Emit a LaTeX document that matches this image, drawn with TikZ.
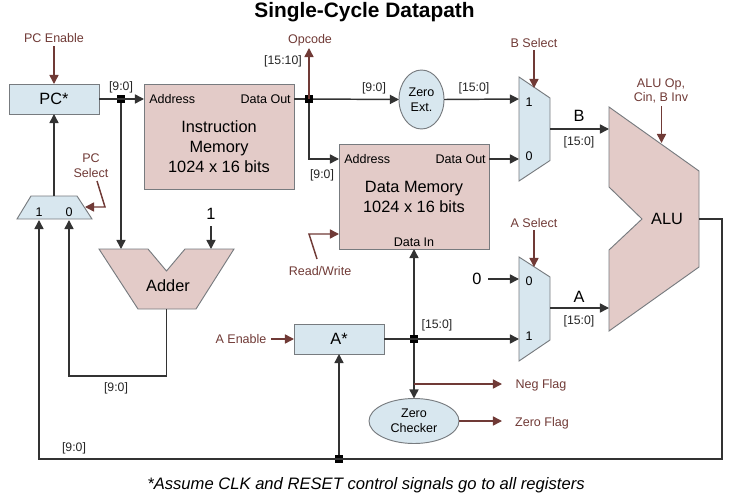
\documentclass[tikz,border=0pt]{standalone}
\usepackage{fontspec}
\setmainfont{Liberation Sans}
\usetikzlibrary{arrows.meta,shapes.geometric}
\definecolor{wirec}{HTML}{333333}
\definecolor{ctrlc}{HTML}{703A36}
\definecolor{redf}{HTML}{E3CBC8}
\definecolor{bluef}{HTML}{D8E7EF}
\definecolor{edgec}{HTML}{777B7F}
\tikzset{
  blockbase/.style={draw=edgec,line width=0.7pt,inner sep=0pt,outer sep=0pt,align=center},
  redbox/.style={blockbase,fill=redf,font=\fontsize{12.25}{15}\selectfont},
  bluebox/.style={blockbase,fill=bluef,font=\fontsize{12.25}{15}\selectfont},
  redpoly/.style={draw=edgec,line width=0.7pt,fill=redf,line join=miter},
  bluepoly/.style={draw=edgec,line width=0.7pt,fill=bluef,line join=miter},
  wire/.style={draw=wirec,line width=1.1pt,-{Triangle[length=6.8pt,width=6.8pt]}},
  wireplain/.style={draw=wirec,line width=1.1pt},
  ctrl/.style={draw=ctrlc,line width=1.1pt,-{Triangle[length=6.8pt,width=6.8pt]}},
  dotj/.style={fill=black,inner sep=0pt,outer sep=0pt,minimum size=6pt},
  small/.style={inner sep=0pt,yshift=-1.3pt,font=\fontsize{9.2}{11}\selectfont,text=black!85},
  ctrltext/.style={inner sep=0pt,align=center,font=\fontsize{9.4}{11}\selectfont,text=ctrlc},
  port/.style={inner sep=0pt,font=\fontsize{9.4}{11}\selectfont},
  big/.style={inner sep=0pt,align=center,font=\fontsize{12.25}{15}\selectfont},
}
\begin{document}
\begin{tikzpicture}[x=0.75pt,y=-0.75pt]
\useasboundingbox (0,0) rectangle (732,500);
% title
\node[inner sep=0pt,font=\bfseries\fontsize{15.65}{18}\selectfont] (title) at (364.5,12) {Single-Cycle Datapath};
\node[inner sep=0pt,font=\itshape\fontsize{12.45}{15}\selectfont] (foot) at (366,485) {*Assume CLK and RESET control signals go to all registers};
% blocks
\node[bluebox,minimum width=67.5pt,minimum height=22.5pt] (pc) at (54,99) {PC*};
\node[bluebox,minimum width=67.5pt,minimum height=22.5pt] (areg) at (339,339) {A*};
\node[redbox,minimum width=112.5pt,minimum height=78.75pt] (imem) at (219,136.5) {};
\node[big] (imemt) at (219,146.5) {Instruction\\Memory\\1024 x 16 bits};
\node[redbox,minimum width=112.5pt,minimum height=78.75pt] (dmem) at (414,196.5) {};
\node[big] (dmemt) at (414,196.5) {Data Memory\\1024 x 16 bits};
\node[port,anchor=west] (imaddr) at (149,99) {Address};
\node[port,anchor=east] (imout) at (291,99) {Data Out};
\node[port,anchor=west] (dmaddr) at (344,159) {Address};
\node[port,anchor=east] (dmout) at (486,159) {Data Out};
\node[port] (dmin) at (414,242) {Data In};
\node[ellipse,blockbase,fill=bluef,minimum width=33.75pt,minimum height=44.25pt,font=\fontsize{9.4}{11.25}\selectfont] (zext) at (421.5,99.5) {Zero\\Ext.};
\node[ellipse,blockbase,fill=bluef,minimum width=67.5pt,minimum height=33.75pt,font=\fontsize{9.4}{11.25}\selectfont] (zchk) at (414,421) {Zero\\Checker};
% polygons
\draw[bluepoly] (519,77) -- (550,98) -- (550,160.5) -- (519,181) -- cycle;
\draw[bluepoly] (519,257) -- (550,277) -- (550,340) -- (519,361) -- cycle;
\draw[bluepoly] (31,196) -- (77,196) -- (92,219) -- (17,219) -- cycle;
\draw[redpoly] (609,107) -- (699,171) -- (699,267) -- (609,331) -- (609,250) -- (642,219) -- (609,187) -- cycle;
\draw[redpoly] (99,249) -- (148,249) -- (166.5,271) -- (185,249) -- (234,249) -- (196,309) -- (138,309) -- cycle;
% polygon anchor points
\coordinate (bm1) at (519,99);
\coordinate (bm0) at (519,159);
\coordinate (bmo) at (550,129);
\coordinate (bmt) at (534,88);
\coordinate (am0) at (519,279);
\coordinate (am1) at (519,339);
\coordinate (amo) at (550,308);
\coordinate (amt) at (534,267);
\coordinate (pcmt) at (54,196);
\coordinate (pcm1) at (39,220);
\coordinate (pcm0) at (69,220);
\coordinate (pcms) at (85,207);
\coordinate (alub) at (609,129);
\coordinate (alua) at (609,308);
\coordinate (aluo) at (699,219);
\coordinate (alut) at (661.5,143);
\coordinate (add1) at (121,249);
\coordinate (add2) at (211,249);
\coordinate (addo) at (166.5,309);
% texts in polygons
\node[big] (alut1) at (667,219) {ALU};
\node[big] (addt) at (168,286) {Adder};
\node[port] (bm1t) at (529,102) {1};
\node[port] (bm0t) at (529,156) {0};
\node[port] (am0t) at (529,281) {0};
\node[port] (am1t) at (529,336) {1};
\node[port] (pcm1t) at (39,212) {1};
\node[port] (pcm0t) at (69,212) {0};
% junctions
\node[dotj] (j1) at (121,99) {};
\node[dotj] (j2) at (309,99) {};
\node[dotj] (j3) at (414,339) {};
\node[dotj] (j4) at (339,459) {};
% free ends
\node[big] (one) at (211,214) {1};
\node[big] (zero) at (477,279) {0};
\coordinate (oneend) at (211,226);
\coordinate (zeroend) at (488,279);
\coordinate (r1) at (722,219);
\coordinate (r2) at (722,459);
\coordinate (r3) at (39,459);
\coordinate (l1) at (69,376);
\coordinate (l2) at (166.5,376);
\coordinate (dm1) at (309,159);
\coordinate (dmaddrp) at (339,159);
\coordinate (dmdatp) at (489,159);
\coordinate (dmindp) at (414,249);
\coordinate (negst) at (414,384);
\coordinate (opend) at (309,48);
% wires
\draw[wire] (pc.east) -- (imem.west |- pc.east);
\draw[wire] (j1) -- (add1);
\draw[wireplain] (imem.east |- j2) -- (j2);
\draw[wire] (j2) -- (zext.west);
\draw[wire] (j2) -- (dm1) -- (dmaddrp);
\draw[wire] (zext.east) -- (bm1);
\draw[wire] (dmdatp) -- (bm0);
\draw[wire] (bmo) -- (alub);
\draw[wire] (amo) -- (alua);
\draw[wire] (zeroend) -- (am0);
\draw[wire] (oneend) -- (add2);
\draw[wire] (areg.east) -- (am1);
\draw[wire] (j3) -- (dmindp);
\draw[wire] (j3) -- (zchk.north);
\draw[wire] (pcmt) -- (pc.south);
\draw[wire] (addo) -- (l2) -- (l1) -- (pcm0);
\draw[wire] (aluo) -- (r1) -- (r2) -- (r3) -- (pcm1);
\draw[wire] (j4) -- (areg.south);
% control
\node[ctrltext] (pcen) at (54,38) {PC Enable};
\coordinate (pcenb) at (54,46);
\draw[ctrl] (pcenb) -- (pc.north);
\node[ctrltext] (pcsel) at (91,166) {PC\\Select};
\coordinate (ps1) at (97,181);
\coordinate (ps2) at (105,207);
\draw[ctrl] (ps1) -- (ps2) -- (pcms);
\node[ctrltext] (opc) at (310,40) {Opcode};
\draw[ctrl] (j2.center) -- (opend);
\node[ctrltext] (rw) at (320,271.5) {Read/Write};
\coordinate (rw1) at (317,259);
\coordinate (rw2) at (309,234);
\coordinate (rw3) at (339,234);
\draw[ctrl] (rw1) -- (rw2) -- (rw3);
\node[ctrltext] (bsel) at (534,43) {B Select};
\coordinate (bselb) at (534,50);
\draw[ctrl] (bselb) -- (bmt);
\node[ctrltext] (asel) at (534,223) {A Select};
\coordinate (aselb) at (534,230);
\draw[ctrl] (aselb) -- (amt);
\node[ctrltext] (aluop) at (661,91) {ALU Op,\\Cin, B Inv};
\coordinate (aluopb) at (661.5,106);
\draw[ctrl] (aluopb) -- (alut);
\node[ctrltext] (aen) at (241,339) {A Enable};
\coordinate (aenb) at (271,339);
\draw[ctrl] (aenb) -- (areg.west);
\node[ctrltext] (neg) at (541,385.5) {Neg Flag};
\coordinate (negend) at (502,384);
\draw[ctrl] (negst) -- (negend);
\node[ctrltext] (zfl) at (542,423.5) {Zero Flag};
\coordinate (zflend) at (502,421);
\draw[ctrl] (zchk.east) -- (zflend);
% bus labels
\node[small] (b1) at (121,86) {[9:0]};
\node[small] (b2) at (283,60) {[15:10]};
\node[small] (b3) at (322,174) {[9:0]};
\node[small] (b4) at (374,87) {[9:0]};
\node[small] (b5) at (474,87) {[15:0]};
\node[small] (b6) at (579,141) {[15:0]};
\node[small] (b7) at (579,320) {[15:0]};
\node[small] (b8) at (437,324) {[15:0]};
\node[small] (b9) at (116,387) {[9:0]};
\node[small] (b10) at (74,447) {[9:0]};
\node[big] (bl) at (579,116) {B};
\node[big] (al) at (579,297) {A};
\end{tikzpicture}
\end{document}
